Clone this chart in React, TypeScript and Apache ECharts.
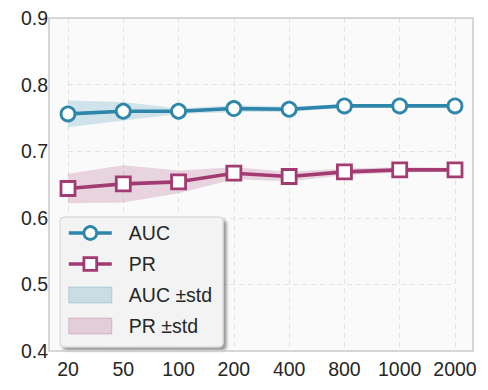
import React, { useEffect, useRef } from "react";
import * as echarts from "echarts";

const xLabels = ["20", "50", "100", "200", "400", "800", "1000", "2000"];
const aucMean = [0.756, 0.76, 0.76, 0.764, 0.763, 0.768, 0.768, 0.768];
const aucStd = [0.02, 0.014, 0.004, 0.005, 0.004, 0.002, 0.002, 0.002];
const prMean = [0.644, 0.651, 0.654, 0.667, 0.662, 0.669, 0.672, 0.672];
const prStd = [0.022, 0.028, 0.017, 0.009, 0.007, 0.005, 0.004, 0.003];
const yTicks = [0.4, 0.5, 0.6, 0.7, 0.8, 0.9];

const AUC_COLOR = "#2E86AB";
const PR_COLOR = "#A23B72";
const AUC_BAND = "rgba(46,134,171,0.2)";
const PR_BAND = "rgba(162,59,114,0.2)";
const FONT = "'Liberation Sans', Arial, sans-serif";
const TEXT = "#262626";

export default function App() {
  const ref = useRef<HTMLDivElement>(null);
  useEffect(() => {
    if (!ref.current) return;
    const chart = echarts.init(ref.current, null, { renderer: "svg" });
    const lower = (m: number[], s: number[]) => m.map((v, i) => +(v - s[i]).toFixed(4));
    const width = (s: number[]) => s.map((v) => +(2 * v).toFixed(4));
    chart.setOption({
      animation: false,
      textStyle: { fontFamily: FONT },
      graphic: [
        {
          type: "rect",
          z: -10,
          shape: { x: 49, y: 18, width: 424, height: 333 },
          style: { fill: "#fafafa", stroke: "none" },
        },
        {
          type: "rect",
          z: 50,
          shape: { x: 49, y: 18, width: 424, height: 333 },
          style: { fill: "none", stroke: "#cccccc", lineWidth: 1.6 },
          silent: true,
        },
      ],
      grid: { left: 68, right: 33, top: 18, bottom: 39 },
      xAxis: {
        type: "category",
        data: xLabels,
        boundaryGap: false,
        axisLine: { show: false },
        axisTick: { show: false },
        axisLabel: { color: TEXT, fontSize: 19.5, margin: 8, fontFamily: FONT, interval: 0, hideOverlap: false },
        splitLine: { show: true, interval: 0, lineStyle: { color: "#e3e3e3", type: [5, 4], width: 1 } },
      },
      yAxis: {
        type: "value",
        min: yTicks[0],
        max: yTicks[yTicks.length - 1],
        interval: 0.1,
        axisLine: { show: false },
        axisTick: { show: false },
        axisLabel: {
          color: TEXT,
          fontSize: 19.5,
          margin: 20,
          fontFamily: FONT,
          formatter: (v: number) => v.toFixed(1),
        },
        splitLine: { show: true, lineStyle: { color: "#e3e3e3", type: [5, 4], width: 1 } },
      },
      legend: {
        left: 60,
        top: 217,
        orient: "vertical",
        itemWidth: 43,
        itemHeight: 16,
        itemGap: 11,
        padding: [6, 11, 11, 7],
        backgroundColor: "#f3f3f3",
        borderColor: "#d0d0d0",
        borderWidth: 1,
        borderRadius: 4,
        shadowBlur: 3,
        shadowOffsetX: 3,
        shadowOffsetY: 3,
        shadowColor: "rgba(0,0,0,0.4)",
        textStyle: { color: TEXT, fontSize: 19.5, fontFamily: FONT, padding: [0, 0, 0, 12] },
        data: [
          {
            name: "AUC",
            lineStyle: { color: AUC_COLOR, width: 3.6 },
            itemStyle: { color: "#ffffff", borderColor: AUC_COLOR, borderWidth: 2.8 },
          },
          {
            name: "PR",
            lineStyle: { color: PR_COLOR, width: 3.6 },
            itemStyle: { color: "#ffffff", borderColor: PR_COLOR, borderWidth: 2.8 },
          },
          { name: "AUC ±std", icon: "rect", itemStyle: { color: AUC_BAND, borderColor: "rgba(46,134,171,0.25)", borderWidth: 1 } },
          { name: "PR ±std", icon: "rect", itemStyle: { color: PR_BAND, borderColor: "rgba(162,59,114,0.25)", borderWidth: 1 } },
        ],
      },
      series: [
        {
          name: "AUC lower",
          type: "line",
          stack: "aucband",
          data: lower(aucMean, aucStd),
          symbol: "none",
          lineStyle: { opacity: 0 },
          silent: true,
          z: 1,
        },
        {
          name: "AUC ±std",
          type: "line",
          stack: "aucband",
          data: width(aucStd),
          symbol: "none",
          itemStyle: { color: AUC_BAND },
          lineStyle: { opacity: 0 },
          areaStyle: { color: AUC_BAND, opacity: 1 },
          silent: true,
          z: 1,
        },
        {
          name: "PR lower",
          type: "line",
          stack: "prband",
          data: lower(prMean, prStd),
          symbol: "none",
          lineStyle: { opacity: 0 },
          silent: true,
          z: 1,
        },
        {
          name: "PR ±std",
          type: "line",
          stack: "prband",
          data: width(prStd),
          symbol: "none",
          itemStyle: { color: PR_BAND },
          lineStyle: { opacity: 0 },
          areaStyle: { color: PR_BAND, opacity: 1 },
          silent: true,
          z: 1,
        },
        {
          name: "AUC",
          type: "line",
          data: aucMean,
          symbol: "circle",
          symbolSize: 14,
          lineStyle: { color: AUC_COLOR, width: 3.6 },
          itemStyle: { color: "#ffffff", borderColor: AUC_COLOR, borderWidth: 2.8 },
          z: 5,
        },
        {
          name: "PR",
          type: "line",
          data: prMean,
          symbol: "rect",
          symbolSize: 14,
          lineStyle: { color: PR_COLOR, width: 3.6 },
          itemStyle: { color: "#ffffff", borderColor: PR_COLOR, borderWidth: 2.8 },
          z: 5,
        },
      ],
    });
    return () => chart.dispose();
  }, []);
  return <div ref={ref} style={{ width: 488, height: 390, position: "absolute", left: 0, top: 0, background: "#ffffff" }} />;
}
